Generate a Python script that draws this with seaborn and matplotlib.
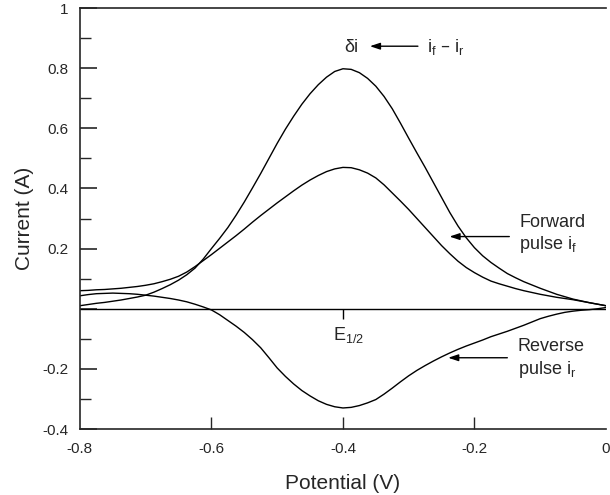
import numpy as np
import pandas as pd
import matplotlib
matplotlib.use("Agg")
import matplotlib.pyplot as plt
import seaborn as sns

# Values (potential grid every 0.0125 V)
potential = np.linspace(-0.8, 0.0, 65)

diff_current = [0.010, 0.014, 0.018, 0.021, 0.025, 0.029, 0.034, 0.039, 0.045,
                0.055, 0.067, 0.080, 0.095, 0.113, 0.135, 0.165, 0.200, 0.234,
                0.270, 0.311, 0.355, 0.402, 0.450, 0.500, 0.550, 0.597, 0.640,
                0.680, 0.715, 0.745, 0.770, 0.789, 0.798, 0.796, 0.785, 0.766,
                0.740, 0.706, 0.665, 0.617, 0.567, 0.518, 0.470, 0.420, 0.370,
                0.320, 0.275, 0.236, 0.203, 0.176, 0.154, 0.135, 0.117, 0.103,
                0.090, 0.079, 0.068, 0.058, 0.048, 0.040, 0.032, 0.026, 0.020,
                0.015, 0.010]

forward_current = [0.060, 0.061, 0.063, 0.064, 0.066, 0.068, 0.071, 0.074, 0.078,
                   0.083, 0.090, 0.098, 0.108, 0.122, 0.140, 0.160, 0.180, 0.201,
                   0.222, 0.243, 0.265, 0.288, 0.310, 0.331, 0.352, 0.372, 0.392,
                   0.411, 0.428, 0.443, 0.456, 0.465, 0.470, 0.469, 0.462, 0.451,
                   0.435, 0.412, 0.385, 0.358, 0.330, 0.300, 0.270, 0.240, 0.210,
                   0.183, 0.158, 0.137, 0.120, 0.105, 0.092, 0.083, 0.075, 0.067,
                   0.060, 0.054, 0.048, 0.043, 0.038, 0.034, 0.030, 0.025, 0.020,
                   0.015, 0.010]

reverse_current = [0.043, 0.047, 0.050, 0.051, 0.052, 0.051, 0.050, 0.048, 0.045,
                   0.042, 0.038, 0.034, 0.029, 0.023, 0.015, 0.006, -0.004, -0.020,
                   -0.039, -0.058, -0.079, -0.103, -0.130, -0.163, -0.197, -0.225, -0.250,
                   -0.272, -0.290, -0.306, -0.318, -0.326, -0.330, -0.328, -0.322, -0.313,
                   -0.302, -0.284, -0.264, -0.243, -0.223, -0.205, -0.189, -0.174, -0.160,
                   -0.147, -0.135, -0.124, -0.114, -0.104, -0.093, -0.084, -0.075, -0.065,
                   -0.055, -0.044, -0.033, -0.025, -0.018, -0.012, -0.008, -0.005, -0.003,
                   0.000, 0.004]

series_names = ["difference", "forward", "reverse"]
x_ticks = [-0.8, -0.6, -0.4, -0.2, 0.0]
x_tick_labels = ["-0.8", "-0.6", "-0.4", "-0.2", "0"]
y_ticks = [-0.4, -0.2, 0.0, 0.2, 0.4, 0.6, 0.8, 1.0]
y_tick_labels = ["-0.4", "-0.2", "", "0.2", "0.4", "0.6", "0.8", "1"]
E_half = -0.4

df = pd.DataFrame({
    "Potential": np.tile(potential, 3),
    "Current": diff_current + forward_current + reverse_current,
    "series": np.repeat(series_names, len(potential)),
})

sns.set_style("ticks")
plt.rcParams["font.family"] = ["Liberation Sans", "DejaVu Sans"]
plt.rcParams["mathtext.default"] = "regular"
plt.rcParams["axes.unicode_minus"] = False

fig = plt.figure(figsize=(6.1, 4.95), dpi=100)
ax = fig.add_axes([0.131, 0.1333, 0.8624, 0.8505])

sns.lineplot(data=df, x="Potential", y="Current", hue="series",
             palette={s: "black" for s in series_names}, linewidth=1.0,
             legend=False, ax=ax, sort=False)

# zero baseline and E1/2 marker
ax.axhline(0, color="black", linewidth=1.0)
ax.plot([E_half], [0], marker=3, markersize=7, markeredgewidth=1.0, color="black")

ax.set_xlim(-0.8, 0.0)
ax.set_ylim(-0.4, 1.0)
ax.set_xticks(x_ticks)
ax.set_xticklabels(x_tick_labels)
ax.set_yticks(y_ticks)
ax.set_yticklabels(y_tick_labels)
ax.set_yticks(np.arange(-0.3, 1.0, 0.2), minor=True)
ax.tick_params(axis="x", direction="in", length=9, width=1.0, pad=9, labelsize=11)
ax.tick_params(axis="y", which="major", direction="in", length=12, width=1.2, pad=8,
               labelsize=11)
ax.tick_params(axis="y", which="minor", direction="in", length=8, width=1.0)
for t in (ax.xaxis.get_major_ticks()[0], ax.xaxis.get_major_ticks()[-1]):
    t.tick1line.set_visible(False)

ax.spines["right"].set_visible(False)
for s in ["left", "bottom", "top"]:
    ax.spines[s].set_linewidth(1.2)

ax.set_xlabel("Potential (V)", fontsize=15, labelpad=13)
ax.set_ylabel("Current (A)", fontsize=15, labelpad=6)

# annotations
arrow = dict(arrowstyle="-|>,head_length=0.6,head_width=0.2", color="black",
             linewidth=1.0, shrinkA=0, shrinkB=0)
ax.text(-0.388, 0.87, "δi", fontsize=13, ha="center", va="center")
ax.annotate("", xy=(-0.359, 0.873), xytext=(-0.286, 0.873), arrowprops=arrow)
ax.text(-0.272, 0.87, "$i_f$ – $i_r$", fontsize=13, ha="left", va="center")

ax.text(-0.132, 0.247, "Forward\npulse $i_f$", fontsize=13, ha="left",
        va="center", linespacing=1.25)
ax.annotate("", xy=(-0.238, 0.24), xytext=(-0.147, 0.24), arrowprops=arrow)

ax.text(-0.134, -0.167, "Reverse\npulse $i_r$", fontsize=13, ha="left",
        va="center", linespacing=1.25)
ax.annotate("", xy=(-0.24, -0.163), xytext=(-0.15, -0.163), arrowprops=arrow)

ax.text(-0.391, -0.087, "$E_{1/2}$", fontsize=13, ha="center", va="center")

fig.savefig("out.png", dpi=100)
